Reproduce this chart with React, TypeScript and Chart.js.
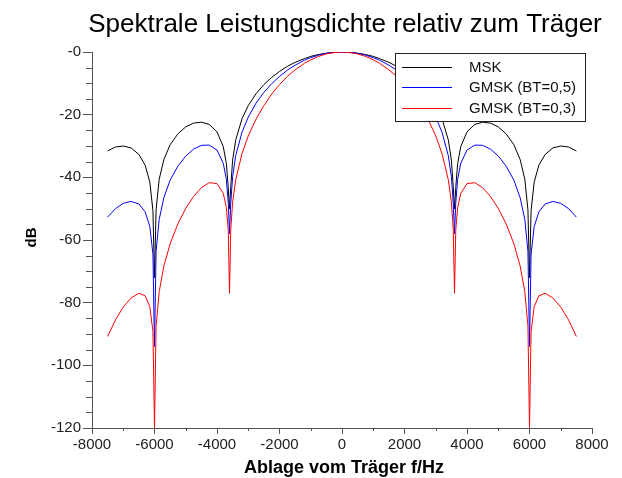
import React, { useEffect, useRef } from 'react';
import { Chart, registerables } from 'chart.js';

Chart.register(...registerables);

const FONT = '"Liberation Sans", Arial, Helvetica, sans-serif';
const TITLE = 'Spektrale Leistungsdichte relativ zum Träger';
const X_TITLE = 'Ablage vom Träger f/Hz';
const Y_TITLE = 'dB';
const SERIES_LABELS = ['MSK', 'GMSK (BT=0,5)', 'GMSK (BT=0,3)'];
const SERIES_COLORS = ['#000000', '#0000ff', '#ff0000'];

const X_MIN = -8000;
const X_MAX = 8000;
const X_STEP = 2000;
const X_MINOR_STEP = 1000;
const Y_MIN = -120;
const Y_MAX = 0;
const Y_STEP = 20;
const Y_MINOR_STEP = 5;

const freqHz = [
  -7500, -7250, -7000, -6750, -6500, -6300, -6150, -6050, -6000, -5950, -5850, -5700, -5500, -5250, -5000,
  -4750, -4500, -4250, -4000, -3800, -3700, -3640, -3600, -3560, -3500, -3400, -3200, -3000, -2750, -2500,
  -2250, -2000, -1750, -1500, -1200, -1000, -750, -500, -250, 0, 250, 500, 750, 1000, 1200, 1500, 1750,
  2000, 2250, 2500, 2750, 3000, 3200, 3400, 3500, 3560, 3600, 3640, 3700, 3800, 4000, 4250, 4500, 4750,
  5000, 5250, 5500, 5700, 5850, 5950, 6000, 6050, 6150, 6300, 6500, 6750, 7000, 7250, 7500,
];

const mskDb = [
  -31.6, -30.3, -30.0, -30.6, -32.7, -36.1, -41.5, -50.7, -72.0, -50.4, -40.6, -34.3, -29.6, -26.1, -23.9,
  -22.7, -22.4, -23.1, -25.5, -30.2, -35.6, -43.3, -50.0, -43.0, -34.5, -28.0, -21.3, -17.1, -13.3, -10.4,
  -8.1, -6.2, -4.6, -3.3, -2.1, -1.4, -0.8, -0.4, -0.1, 0, -0.1, -0.4, -0.8, -1.4, -2.1, -3.3, -4.6,
  -6.2, -8.1, -10.4, -13.3, -17.1, -21.3, -28.0, -34.5, -43.0, -50.0, -43.3, -35.6, -30.2, -25.5, -23.1, -22.4, -22.7,
  -23.9, -26.1, -29.6, -34.3, -40.6, -50.4, -72.0, -50.7, -41.5, -36.1, -32.7, -30.6, -30.0, -30.3, -31.6,
];

const gmsk05Db = [
  -52.7, -50.0, -48.3, -47.7, -48.5, -51.0, -55.7, -64.5, -94.0, -63.7, -53.4, -46.5, -40.9, -36.4, -33.2,
  -31.0, -29.8, -29.7, -31.3, -35.5, -40.7, -48.2, -58.0, -48.2, -39.8, -33.0, -25.6, -20.8, -16.3, -12.9,
  -10.1, -7.8, -5.8, -4.2, -2.6, -1.8, -1.0, -0.4, -0.1, 0, -0.1, -0.4, -1.0, -1.8, -2.6, -4.2, -5.8,
  -7.8, -10.1, -12.9, -16.3, -20.8, -25.6, -33.0, -39.8, -48.2, -58.0, -48.2, -40.7, -35.5, -31.3, -29.7, -29.8, -31.0,
  -33.2, -36.4, -40.9, -46.5, -53.4, -63.7, -94.0, -64.5, -55.7, -51.0, -48.5, -47.7, -48.3, -50.0, -52.7,
];

const gmsk03Db = [
  -90.8, -85.5, -81.4, -78.5, -77.0, -77.8, -81.3, -89.2, -120.0, -87.6, -76.5, -68.3, -61.2, -54.8, -49.9,
  -46.1, -43.3, -41.7, -42.0, -45.1, -49.7, -56.9, -77.0, -56.7, -47.9, -40.7, -32.4, -26.8, -21.4, -17.1,
  -13.4, -10.4, -7.8, -5.7, -3.6, -2.5, -1.4, -0.6, -0.2, 0, -0.2, -0.6, -1.4, -2.5, -3.6, -5.7, -7.8,
  -10.4, -13.4, -17.1, -21.4, -26.8, -32.4, -40.7, -47.9, -56.7, -77.0, -56.9, -49.7, -45.1, -42.0, -41.7, -43.3, -46.1,
  -49.9, -54.8, -61.2, -68.3, -76.5, -87.6, -120.0, -89.2, -81.3, -77.8, -77.0, -78.5, -81.4, -85.5, -90.8,
];

const SERIES_VALUES = [mskDb, gmsk05Db, gmsk03Db];

const AXIS_COLOR = '#555555';
const LABEL_COLOR = '#222222';

const decorPlugin = {
  id: 'decor',
  afterDraw(chart: any) {
    const { ctx, chartArea: ca, scales } = chart;
    const xs = scales.x;
    const ys = scales.y;
    ctx.save();

    // minor ticks
    ctx.strokeStyle = AXIS_COLOR;
    ctx.lineWidth = 1;
    for (let v = Y_MIN; v <= Y_MAX; v += Y_MINOR_STEP) {
      if (v % Y_STEP === 0) continue;
      const py = Math.round(ys.getPixelForValue(v)) + 0.5;
      ctx.beginPath();
      ctx.moveTo(ca.left - 6, py);
      ctx.lineTo(ca.left, py);
      ctx.stroke();
    }
    for (let v = X_MIN; v <= X_MAX; v += X_MINOR_STEP) {
      if (v % X_STEP === 0) continue;
      const px = Math.round(xs.getPixelForValue(v)) + 0.5;
      ctx.beginPath();
      ctx.moveTo(px, ca.bottom);
      ctx.lineTo(px, ca.bottom + 3);
      ctx.stroke();
    }

    // title
    ctx.fillStyle = '#000';
    ctx.textAlign = 'center';
    ctx.textBaseline = 'alphabetic';
    ctx.font = `26px ${FONT}`;
    ctx.fillText(TITLE, (ca.left + ca.right) / 2 + 3, 32);

    // x title
    ctx.font = `bold 18px ${FONT}`;
    ctx.fillText(X_TITLE, (ca.left + ca.right) / 2 + 2, 472.5);

    // y title
    ctx.save();
    ctx.translate(35.5, (ca.top + ca.bottom) / 2 - 2.5);
    ctx.rotate(-Math.PI / 2);
    ctx.font = `bold 15px ${FONT}`;
    ctx.fillText(Y_TITLE, 0, 0);
    ctx.restore();

    // legend box
    const right = ca.right - 7;
    const left = right - 190;
    const top = ca.top + 1;
    const height = 68;
    ctx.fillStyle = '#ffffff';
    ctx.fillRect(left, top, right - left, height);
    ctx.strokeStyle = '#222';
    ctx.lineWidth = 1;
    ctx.strokeRect(Math.round(left) + 0.5, Math.round(top) + 0.5, Math.round(right - left), height);
    ctx.font = `15px ${FONT}`;
    ctx.textAlign = 'left';
    ctx.textBaseline = 'middle';
    chart.data.datasets.forEach((ds: any, i: number) => {
      const y = Math.round(top + 13.5 + i * 20.8) + 0.5;
      ctx.strokeStyle = ds.borderColor;
      ctx.beginPath();
      ctx.moveTo(left + 7, y);
      ctx.lineTo(left + 57, y);
      ctx.stroke();
      ctx.fillStyle = '#111';
      ctx.fillText(ds.label, left + 74, y + 0.5);
    });

    ctx.restore();
  },
};

export default function App() {
  const ref = useRef<HTMLCanvasElement>(null);

  useEffect(() => {
    const canvas = ref.current;
    if (!canvas) return;
    const datasets = SERIES_LABELS.map((label, i) => ({
      label,
      data: freqHz.map((f, j) => ({ x: f, y: SERIES_VALUES[i][j] })),
      borderColor: SERIES_COLORS[i],
      backgroundColor: SERIES_COLORS[i],
      borderWidth: 1,
      pointRadius: 0,
      fill: false,
      tension: 0,
      order: 3 - i,
    }));
    const tickFont = { family: FONT, size: 15 };
    const chart = new Chart(canvas, {
      type: 'line',
      data: { datasets },
      options: {
        animation: false,
        responsive: false,
        layout: { padding: { left: 0, right: 30, top: 52, bottom: 0 } },
        plugins: {
          legend: { display: false },
          title: { display: false },
          tooltip: { enabled: false },
        },
        scales: {
          x: {
            type: 'linear',
            min: X_MIN,
            max: X_MAX,
            afterFit: (s: any) => {
              s.height = 50;
            },
            ticks: {
              stepSize: X_STEP,
              autoSkip: false,
              maxRotation: 0,
              padding: 2,
              color: LABEL_COLOR,
              font: tickFont,
              callback: (v: any) => String(v),
            },
            grid: { drawOnChartArea: false, drawTicks: true, tickLength: 6, tickColor: AXIS_COLOR },
            border: { display: true, color: AXIS_COLOR, width: 1 },
          },
          y: {
            type: 'linear',
            min: Y_MIN,
            max: Y_MAX,
            afterFit: (s: any) => {
              s.width = 92;
            },
            ticks: {
              stepSize: Y_STEP,
              autoSkip: false,
              padding: 2,
              color: LABEL_COLOR,
              font: tickFont,
              callback: (v: any) => (Number(v) === 0 ? '-0' : String(v)),
            },
            grid: { drawOnChartArea: false, drawTicks: true, tickLength: 9, tickColor: AXIS_COLOR },
            border: { display: true, color: AXIS_COLOR, width: 1 },
          },
        },
      },
      plugins: [decorPlugin],
    });
    return () => chart.destroy();
  }, []);

  return (
    <div style={{ position: 'fixed', left: 0, top: 0, width: 622, height: 478, background: '#ffffff' }}>
      <canvas ref={ref} width={622} height={478} style={{ display: 'block' }} />
    </div>
  );
}
